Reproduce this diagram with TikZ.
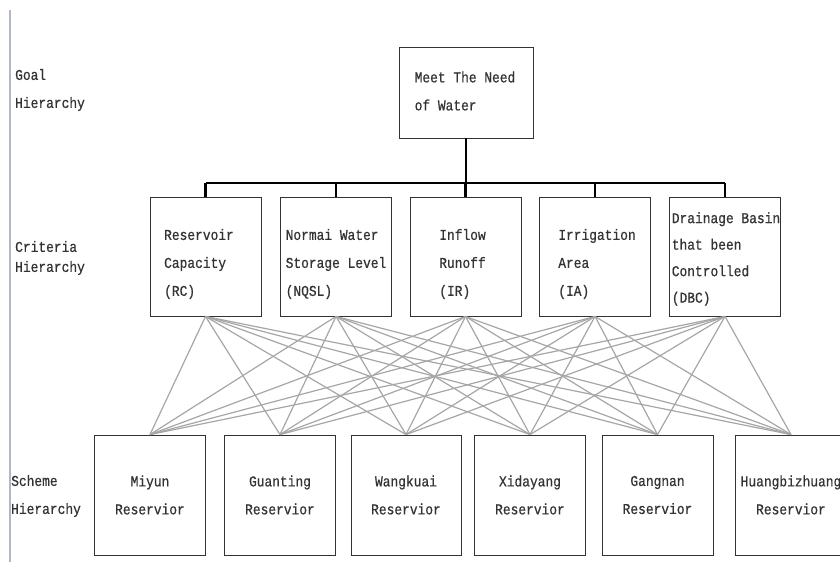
\documentclass[tikz,border=0pt]{standalone}
\usepackage{fontspec}
\newfontfamily\hierfont{Liberation Mono}[FakeStretch=0.86, FakeBold=0.6]
\definecolor{rulegray}{RGB}{176,184,200}
\usetikzlibrary{positioning}

\begin{document}
\begin{tikzpicture}[x = 1pt, y = -1pt,
    box/.style = {draw = black!80, line width = 0.9pt, inner sep = 0pt},
    crit/.style = {box, minimum width = 111pt, minimum height = 119pt},
    scheme/.style = {box, minimum width = 111pt, minimum height = 120pt, align = center, text = black!80,
      font = \hierfont\fontsize{15pt}{28pt}\selectfont},
    txt/.style = {align = left, inner sep = 0pt, text = black!80, font = \hierfont\fontsize{15pt}{28pt}\selectfont},
    bar/.style = {line width = 2.6pt},
    link/.style = {draw = black!35, line width = 1.2pt}]
    \clip (0,0) rectangle (840,563);
    \draw[draw = rulegray, line width = 1.4pt] (10,10) -- (10,562);
    % hierarchy labels
    \node[txt, anchor = west] (goallab) at (15,90) {Goal\\Hierarchy};
    \node[txt, anchor = west, font = \hierfont\fontsize{15pt}{20pt}\selectfont] (critlab) at (15,258) {Criteria\\Hierarchy};
    \node[txt, anchor = west] (schemelab) at (11,496) {Scheme\\Hierarchy};
    % goal
    \node[box, minimum width = 134pt, minimum height = 91pt] (goal) at (466,92.5) {};
    \node[txt] (goal-t) at (465,91) {Meet The Need\\of Water};
    % criteria
    \node[crit] (rc) at (205.5,256.5) {};
    \node[crit] (nqsl) at (336,256.5) {};
    \node[crit] (ir) at (465.5,256.5) {};
    \node[crit] (ia) at (595,256.5) {};
    \node[crit] (dbc) at (725,256.5) {};
    \node[txt] (rc-t) at (199,264) {Reservoir\\Capacity\\(RC)};
    \node[txt] (nqsl-t) at (336,264) {Normai Water\\Storage Level\\(NQSL)};
    \node[txt] (ir-t) at (462.5,264) {Inflow\\Runoff\\(IR)};
    \node[txt] (ia-t) at (597,264) {Irrigation\\Area\\(IA)};
    \node[txt, font = \hierfont\fontsize{15pt}{26.5pt}\selectfont] (dbc-t) at (726,259) {Drainage Basin\\that been\\Controlled\\(DBC)};
    % schemes
    \node[scheme] (miyun) at (150,495) {Miyun\\Reservior};
    \node[scheme] (guanting) at (280,495) {Guanting\\Reservior};
    \node[scheme, minimum width = 110pt] (wangkuai) at (406,495) {Wangkuai\\Reservior};
    \node[scheme] (xidayang) at (530,495) {Xidayang\\Reservior};
    \node[scheme] (gangnan) at (657.5,495) {Gangnan\\Reservior};
    \node[scheme, minimum width = 112pt] (huangbi) at (791,495) {Huangbizhuang\\Reservior};
    % goal to criteria
    \coordinate (joint) at (466,183);
    \draw[bar] (goal.south) -- (joint);
    \draw[bar] (rc.north |- joint) -- (dbc.north |- joint);
    \foreach \c in {rc,nqsl,ir,ia,dbc}
      \draw[bar] (\c.north |- joint) -- (\c.north);
    % criteria to schemes
    \foreach \c in {rc,nqsl,ir,ia,dbc}
      \foreach \s in {miyun,guanting,wangkuai,xidayang,gangnan,huangbi}
        \draw[link] (\c.south) -- (\s.north);
  \end{tikzpicture}
\end{document}
